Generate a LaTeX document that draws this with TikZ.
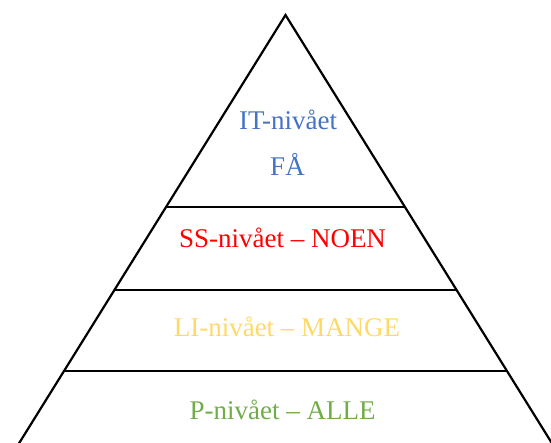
\documentclass[tikz,border=0pt]{standalone}
\usepackage{fontspec}
\setmainfont{Liberation Serif}
\definecolor{itblue}{HTML}{4472C4}
\definecolor{ssred}{HTML}{FF0000}
\definecolor{ligold}{HTML}{FFD966}
\definecolor{pgreen}{HTML}{70AD47}
\begin{document}
\begin{tikzpicture}[x=1pt,y=-1pt,
  edge/.style={line width=2.2pt,line join=miter},
  lbl/.style={font=\fontsize{27}{31}\selectfont,anchor=base,inner sep=0pt}]
\useasboundingbox (0,0) rectangle (551,443);
\clip (0,0) rectangle (551,443);
\coordinate (apex) at (285.5,15);
\coordinate (bl) at (15.5,449);
\coordinate (br) at (555.5,449);
\draw[edge] (bl) -- (apex) -- (br);
\coordinate (l1) at (165.5,207); \coordinate (r1) at (405.5,207);
\coordinate (l2) at (114.5,290); \coordinate (r2) at (456.5,290);
\coordinate (l3) at (64,371);    \coordinate (r3) at (507,371);
\draw[edge] (l1) -- (r1);
\draw[edge] (l2) -- (r2);
\draw[edge] (l3) -- (r3);
\node[lbl,text=itblue] (it) at (288,130) {IT-nivået};
\node[lbl,text=itblue] (fa) at (287.5,176) {FÅ};
\node[lbl,text=ssred] (ss) at (282.5,247.5) {SS-nivået – NOEN};
\node[lbl,text=ligold] (li) at (287,336) {LI-nivået – MANGE};
\node[lbl,text=pgreen] (p) at (282.5,419.5) {P-nivået – ALLE};
\end{tikzpicture}
\end{document}
